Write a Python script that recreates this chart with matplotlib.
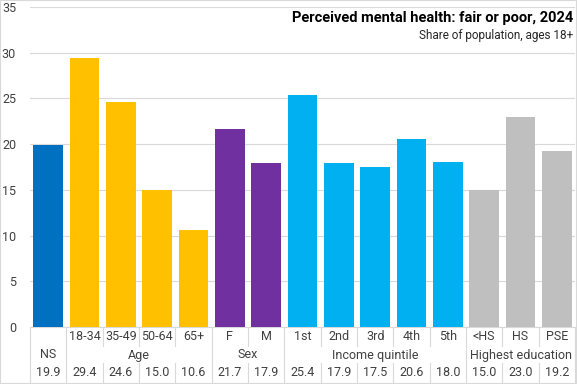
import matplotlib.pyplot as plt
import numpy as np

plt.rcParams['font.family'] = ['Roboto', 'DejaVu Sans']

# data
groups = ['NS', 'Age', 'Sex', 'Income quintile', 'Highest education']
group_sizes = [1, 4, 2, 5, 3]
labels = ['', '18-34', '35-49', '50-64', '65+', 'F', 'M',
          '1st', '2nd', '3rd', '4th', '5th', '<HS', 'HS', 'PSE']
values = [19.9, 29.4, 24.6, 15.0, 10.6, 21.7, 17.9,
          25.4, 17.9, 17.5, 20.6, 18.0, 15.0, 23.0, 19.2]
group_colors = ['#0070C0', '#FFC000', '#7030A0', '#00B0F0', '#BFBFBF']

colors = []
for c, n in zip(group_colors, group_sizes):
    colors += [c] * n

W, H = 577, 384
fig = plt.figure(figsize=(W / 100, H / 100), dpi=100)
ax = fig.add_axes([30 / W, (H - 327) / H, 545 / W, 320 / H])

x = np.arange(len(values))
ax.bar(x, values, width=0.82, color=colors, zorder=3)
ax.set_xlim(-0.5, len(values) - 0.5)
ax.set_ylim(0, 35)
ax.set_yticks(range(0, 36, 5))
ax.yaxis.grid(True, color='#D9D9D9', linewidth=0.8, zorder=0)
ax.set_xticks([])
for s in ['left', 'right', 'top']:
    ax.spines[s].set_visible(False)
ax.spines['bottom'].set_color('#D9D9D9')
ax.tick_params(axis='y', length=0, labelsize=9, colors='#404040', pad=10)


def yf(py):
    # image pixel y -> axes fraction
    return (327 - py) / 320


tr = ax.get_xaxis_transform()
line_kw = dict(color='#D9D9D9', linewidth=0.8, clip_on=False, transform=tr)

# table below the bars
for i, (lab, v) in enumerate(zip(labels, values)):
    ax.text(i, yf(337), lab, ha='center', va='center', fontsize=9,
            color='#404040', transform=tr)
    ax.text(i, yf(373), f'{v:.1f}', ha='center', va='center', fontsize=9,
            color='#404040', transform=tr)

start = 0
bounds = [-0.5]
for g, n in zip(groups, group_sizes):
    ax.text(start + (n - 1) / 2, yf(355), g, ha='center', va='center',
            fontsize=9, color='#404040', transform=tr)
    start += n
    bounds.append(start - 0.5)

for i in range(len(values) + 1):
    b = i - 0.5
    if b in bounds:
        ax.plot([b, b], [yf(327), yf(384)], **line_kw)
    else:
        ax.plot([b, b], [yf(328), yf(346)], **line_kw)
        ax.plot([b, b], [yf(363), yf(384)], **line_kw)

fig.text(573 / W, 1 - 18 / H, 'Perceived mental health: fair or poor, 2024',
         ha='right', va='center', fontsize=10.5, fontweight='bold', color='black')
fig.text(573 / W, 1 - 36 / H, 'Share of population, ages 18+',
         ha='right', va='center', fontsize=8.5, color='#262626')

fig.patches.append(plt.Rectangle((0, 0), 1, 1, transform=fig.transFigure,
                                 fill=False, edgecolor='#D9D9D9', linewidth=1.5))

plt.savefig('out.png', dpi=100)
plt.close()
